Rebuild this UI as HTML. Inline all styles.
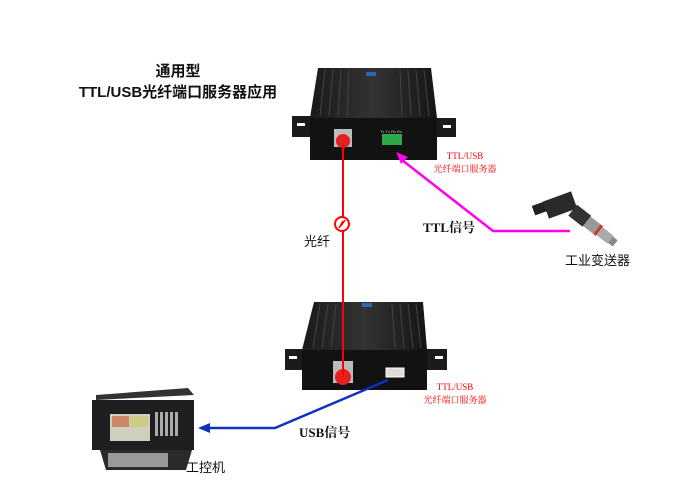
<!DOCTYPE html>
<html><head><meta charset="utf-8"><style>
body{margin:0;background:#fff;}
svg{display:block;font-family:"Liberation Sans","Noto Sans CJK SC",sans-serif;}
</style></head><body>
<svg width="700" height="495" viewBox="0 0 700 495">
<defs>
<linearGradient id="top" x1="0" y1="0" x2="1" y2="0"><stop offset="0" stop-color="#1a1a1a"/><stop offset="0.5" stop-color="#333"/><stop offset="1" stop-color="#151515"/></linearGradient>
</defs>
<text x="178" y="76" font-size="15" font-weight="bold" text-anchor="middle" fill="#111">通用型</text>
<text x="178" y="97" font-size="15" font-weight="bold" text-anchor="middle" fill="#111">TTL/USB光纤端口服务器应用</text>

<polygon points="292,116 312,116 312,137 292,137" fill="#1b1b1b"/>
<rect x="297" y="123" width="8" height="3" fill="#fff"/>
<polygon points="433,118 456,118 456,137 433,137" fill="#1b1b1b"/>
<rect x="443" y="125" width="8" height="3" fill="#fff"/>
<polygon points="318,68 431,68 437,118 310,118" fill="url(#top)"/>
<g stroke="#444" stroke-width="1">
<line x1="325" y1="70" x2="320" y2="116"/><line x1="333" y1="70" x2="329" y2="116"/><line x1="341" y1="70" x2="338" y2="116"/><line x1="349" y1="70" x2="347" y2="116"/>
<line x1="400" y1="70" x2="402" y2="116"/><line x1="408" y1="70" x2="411" y2="116"/><line x1="416" y1="70" x2="420" y2="116"/><line x1="424" y1="70" x2="429" y2="116"/>
</g>
<rect x="366" y="72" width="10" height="4" fill="#2a6ab0"/>
<rect x="310" y="118" width="127" height="42" fill="#121212"/>
<rect x="334" y="129" width="18" height="18" fill="#bbb"/>
<circle cx="343" cy="141" r="7" fill="#e52020"/>
<rect x="382" y="134" width="20" height="11" fill="#2fa84a"/>
<text x="380" y="133" font-size="4" fill="#ccc">Tx Tx Rx Rx</text>

<polygon points="285,349 302,349 302,370 285,370" fill="#1b1b1b"/>
<rect x="289" y="356" width="8" height="3" fill="#fff"/>
<polygon points="427,349 447,349 447,370 427,370" fill="#1b1b1b"/>
<rect x="435" y="356" width="8" height="3" fill="#fff"/>
<polygon points="314,302 423,302 427,350 302,350" fill="url(#top)"/>
<g stroke="#444" stroke-width="1">
<line x1="320" y1="304" x2="313" y2="348"/><line x1="328" y1="304" x2="322" y2="348"/><line x1="336" y1="304" x2="331" y2="348"/>
<line x1="392" y1="304" x2="395" y2="348"/><line x1="400" y1="304" x2="404" y2="348"/><line x1="408" y1="304" x2="413" y2="348"/><line x1="416" y1="304" x2="421" y2="348"/>
</g>
<rect x="362" y="303" width="10" height="4" fill="#2a6ab0"/>
<rect x="302" y="350" width="125" height="40" fill="#121212"/>
<rect x="333" y="361" width="20" height="22" fill="#bbb"/>
<circle cx="343" cy="377" r="8" fill="#e52020"/>
<rect x="386" y="368" width="18" height="9" fill="#ddd" stroke="#fff"/>

<line x1="343" y1="145" x2="343" y2="377" stroke="#f00" stroke-width="2"/>
<circle cx="342" cy="224" r="7" fill="#fff" stroke="#f00" stroke-width="2"/>
<path d="M339,228 L343,221 L341,226 L345,220" stroke="#f00" stroke-width="1.5" fill="none"/>
<text x="304" y="246" font-size="13" fill="#111">光纤</text>

<polyline points="402,160 493,231 570,231" fill="none" stroke="#f0e" stroke-width="2.5"/>
<polygon points="396,152 408,157 401,164" fill="#f0e"/>
<text x="423" y="232" font-size="13" font-weight="bold" font-family="Liberation Serif,Noto Serif CJK SC,serif" fill="#111">TTL信号</text>
<text x="465" y="159" font-size="9" fill="#f00" text-anchor="middle" font-family="Liberation Serif,Noto Serif CJK SC,serif">TTL/USB</text>
<text x="465" y="172" font-size="9" fill="#f00" text-anchor="middle" font-family="Noto Serif CJK SC,serif">光纤端口服务器</text>

<!-- sensor -->
<rect x="533" y="203" width="16" height="10" fill="#222" transform="rotate(-20 541 208)"/>
<rect x="545" y="196" width="30" height="18" fill="#2a2a2a" transform="rotate(-20 560 205)"/>
<g transform="rotate(38 575 212)">
<rect x="572" y="205" width="18" height="14" fill="#333"/>
<rect x="590" y="206" width="14" height="12" fill="#999"/>
<rect x="603" y="206" width="3" height="12" fill="#c33"/>
<rect x="606" y="207" width="14" height="10" fill="#aaa"/>
<rect x="620" y="208" width="6" height="8" fill="#888"/>
</g>
<text x="565" y="265" font-size="13" fill="#111">工业变送器</text>

<polyline points="388,380 275,428 205,428" fill="none" stroke="#1030c0" stroke-width="2.5"/>
<polygon points="198,428 210,423 210,433" fill="#1030c0"/>
<text x="299" y="437" font-size="13" font-weight="bold" font-family="Liberation Serif,Noto Serif CJK SC,serif" fill="#111">USB信号</text>
<text x="455" y="390" font-size="9" fill="#f00" text-anchor="middle" font-family="Liberation Serif,Noto Serif CJK SC,serif">TTL/USB</text>
<text x="455" y="403" font-size="9" fill="#f00" text-anchor="middle" font-family="Noto Serif CJK SC,serif">光纤端口服务器</text>

<polygon points="96,395 188,388 194,395 96,400" fill="#333"/>
<rect x="92" y="400" width="102" height="50" fill="#1e1e1e"/>
<rect x="110" y="414" width="40" height="27" fill="#cfcfc0"/>
<rect x="112" y="416" width="17" height="11" fill="#c86"/>
<rect x="130" y="416" width="18" height="11" fill="#cc8"/>
<g fill="#aaa"><rect x="155" y="412" width="3" height="24"/><rect x="160" y="412" width="3" height="24"/><rect x="165" y="412" width="3" height="24"/><rect x="170" y="412" width="3" height="24"/><rect x="175" y="412" width="3" height="24"/></g>
<polygon points="100,450 192,450 186,470 106,470" fill="#2a2a2a"/>
<rect x="108" y="453" width="60" height="14" fill="#999"/>
<text x="186" y="472" font-size="13" fill="#111">工控机</text>
</svg>
</body></html>
